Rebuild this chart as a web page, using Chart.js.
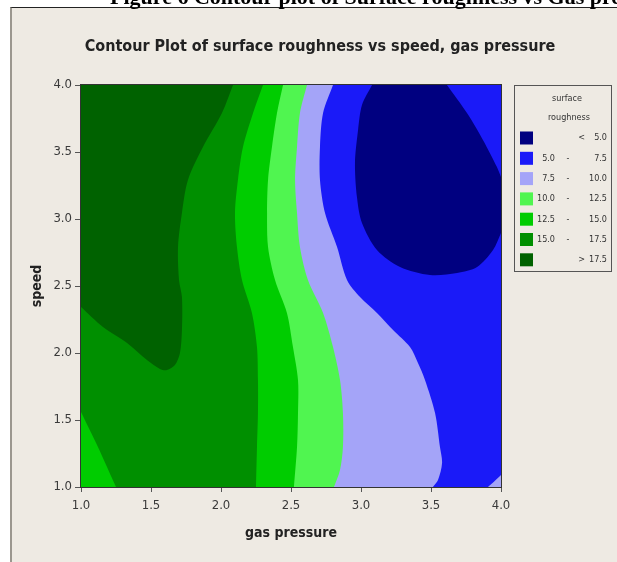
<!DOCTYPE html>
<html>
<head>
<meta charset="utf-8">
<title>Contour Plot of surface roughness vs speed, gas pressure</title>
<script src="https://cdn.jsdelivr.net/npm/chart.js@4.4.0/dist/chart.umd.min.js"></script>
<style>
  html, body { margin: 0; padding: 0; background: #fff; }
  #wrap { position: relative; width: 617px; height: 562px; overflow: hidden; }
  #caption { position: absolute; left: 110px; top: -16px; font: bold 22px "Liberation Serif", serif; color: #000; white-space: nowrap; z-index: 2; }
  #frame { position: absolute; left: 10px; top: 7px; right: 0; bottom: 0; background: #eeeae3; border-left: 2px solid #9b978f; border-top: 1px solid #222; }
  canvas { position: absolute; left: 0; top: 0; }
</style>
</head>
<body>
<div id="wrap">
  <div id="caption">Figure 6 Contour plot of Surface roughness vs Gas pressure</div>
  <div id="frame"></div>
  <canvas id="contourChart" width="617" height="562"></canvas>
</div>
<script>
// contour levels and the colour of each band (lowest band first)
const levels = [5.0, 7.5, 10.0, 12.5, 15.0, 17.5];
const bandColors = ['#000080', '#1a1af8', '#a4a4f8', '#50f550', '#00cc00', '#008f00', '#006200'];

// tick values and labels
const xTicks = [1.0, 1.5, 2.0, 2.5, 3.0, 3.5, 4.0];
const xTickLabels = ['1.0', '1.5', '2.0', '2.5', '3.0', '3.5', '4.0'];
const yTicks = [1.0, 1.5, 2.0, 2.5, 3.0, 3.5, 4.0];
const yTickLabels = ['1.0', '1.5', '2.0', '2.5', '3.0', '3.5', '4.0'];

// contour lines, [gas pressure, speed]
const contour175 = [[2.086, 4.0], [2.007, 3.791], [1.871, 3.537], [1.764, 3.291], [1.721, 3.045], [1.693, 2.791],
  [1.700, 2.545], [1.721, 2.418], [1.721, 2.172], [1.707, 2.0], [1.671, 1.910], [1.614, 1.873], [1.564, 1.881],
  [1.471, 1.948], [1.329, 2.075], [1.157, 2.194], [1.0, 2.343]];
const contour15 = [[2.300, 4.0], [2.229, 3.791], [2.157, 3.537], [2.121, 3.291], [2.100, 3.045], [2.114, 2.791],
  [2.150, 2.545], [2.221, 2.299], [2.257, 2.045], [2.264, 1.799], [2.264, 1.552], [2.257, 1.299], [2.250, 1.0]];
const contour15corner = [[1.0, 1.56], [1.121, 1.299], [1.221, 1.067], [1.25, 1.0]];
const contour125 = [[2.443, 4.0], [2.400, 3.791], [2.364, 3.537], [2.336, 3.291], [2.329, 3.045], [2.336, 2.791],
  [2.386, 2.545], [2.471, 2.299], [2.514, 2.045], [2.550, 1.799], [2.550, 1.552], [2.543, 1.299], [2.521, 1.0]];
const contour10 = [[2.614, 4.0], [2.564, 3.791], [2.543, 3.537], [2.529, 3.291], [2.543, 3.045], [2.564, 2.791],
  [2.621, 2.545], [2.729, 2.299], [2.800, 2.045], [2.850, 1.799], [2.871, 1.552], [2.871, 1.299], [2.850, 1.127], [2.807, 1.0]];
const contour75 = [[2.800, 4.0], [2.729, 3.791], [2.707, 3.537], [2.707, 3.291], [2.743, 3.045], [2.829, 2.791],
  [2.900, 2.545], [2.993, 2.418], [3.114, 2.299], [3.229, 2.172], [3.350, 2.045], [3.407, 1.925], [3.457, 1.799],
  [3.529, 1.552], [3.564, 1.299], [3.579, 1.179], [3.550, 1.052], [3.514, 1.0]];
const contour75corner = [[3.907, 1.0], [3.955, 1.045], [4.0, 1.09]];
const contour5a = [[3.079, 4.0], [3.007, 3.851], [2.979, 3.664], [2.957, 3.418], [2.971, 3.164], [3.007, 2.970],
  [3.114, 2.769], [3.279, 2.642], [3.493, 2.582], [3.686, 2.597], [3.829, 2.642], [3.943, 2.769], [4.0, 2.896]];
const contour5b = [[4.0, 3.313], [3.971, 3.388], [3.871, 3.590], [3.757, 3.791], [3.614, 4.0]];

// points outside the plot used to close the filled areas
const LO = 0.7, HI = 4.3;

// push both ends of a contour a bit past the plot edge so the curve leaves it cleanly
function extend(pts) {
  const out = (p, q) => {
    const dx = p[0] - q[0], dy = p[1] - q[1], d = Math.hypot(dx, dy);
    return [p[0] + dx / d * 0.15, p[1] + dy / d * 0.15];
  };
  const n = pts.length;
  return [out(pts[0], pts[1])].concat(pts, [out(pts[n - 1], pts[n - 2])]);
}

function area(band, order, pts) {
  return {
    label: String(band),
    data: pts.map(p => ({ x: p[0], y: p[1] })),
    backgroundColor: bandColors[band],
    borderWidth: 0,
    pointRadius: 0,
    fill: 'shape',
    tension: 0.3,
    order: order
  };
}

const datasets = [
  area(6, 8, [[LO, LO], [HI, LO], [HI, HI], [LO, HI]]),
  area(5, 7, extend(contour175).concat([[LO, LO], [HI, LO], [HI, HI]])),
  area(4, 6, extend(contour15).concat([[HI, LO], [HI, HI]])),
  area(4, 6, extend(contour15corner).concat([[LO, LO]])),
  area(3, 5, extend(contour125).concat([[HI, LO], [HI, HI]])),
  area(2, 4, extend(contour10).concat([[HI, LO], [HI, HI]])),
  area(1, 3, extend(contour75).concat([[HI, LO], [HI, HI]])),
  area(2, 2, extend(contour75corner).concat([[HI, LO]])),
  area(0, 1, extend(contour5a).concat(extend(contour5b)))
];

const tickFont = { family: '"DejaVu Sans Condensed", "DejaVu Sans", sans-serif', size: 13 };
const titleFamily = '"DejaVu Sans Condensed", "DejaVu Sans", sans-serif';

// frame round the data region
const plotFrame = {
  id: 'plotFrame',
  afterDatasetsDraw(chart) {
    const a = chart.chartArea, ctx = chart.ctx;
    ctx.save();
    ctx.strokeStyle = '#333';
    ctx.lineWidth = 1;
    ctx.strokeRect(Math.round(a.left) - 0.5, Math.round(a.top) - 0.5, a.right - a.left + 1, a.bottom - a.top + 1);
    ctx.restore();
  }
};

// Minitab style legend box on the right
const bandLegend = {
  id: 'bandLegend',
  afterDraw(chart) {
    const ctx = chart.ctx;
    const bx = 514, by = 85, bw = 97, bh = 186;
    ctx.save();
    ctx.strokeStyle = '#555';
    ctx.lineWidth = 1;
    ctx.strokeRect(bx + 0.5, by + 0.5, bw, bh);
    ctx.fillStyle = '#333';
    ctx.font = '9px ' + titleFamily;
    ctx.textAlign = 'center';
    ctx.textBaseline = 'middle';
    ctx.fillText('surface', 567, 99);
    ctx.fillText('roughness', 569, 118);
    const fmt = v => v.toFixed(1);
    for (let i = 0; i < bandColors.length; i++) {
      const cy = 138 + i * 20.3;
      ctx.fillStyle = bandColors[i];
      ctx.fillRect(520, cy - 6.5, 13, 13);
      ctx.fillStyle = '#333';
      ctx.textAlign = 'right';
      if (i === 0) {
        ctx.fillText('<', 585, cy);
        ctx.fillText(fmt(levels[0]), 607, cy);
      } else if (i === bandColors.length - 1) {
        ctx.fillText('>', 585, cy);
        ctx.fillText(fmt(levels[levels.length - 1]), 607, cy);
      } else {
        ctx.fillText(fmt(levels[i - 1]), 555, cy);
        ctx.textAlign = 'center';
        ctx.fillText('-', 568, cy);
        ctx.textAlign = 'right';
        ctx.fillText(fmt(levels[i]), 607, cy);
      }
    }
    ctx.restore();
  }
};

new Chart(document.getElementById('contourChart'), {
  type: 'line',
  data: { datasets: datasets },
  plugins: [plotFrame, bandLegend],
  options: {
    responsive: false,
    animation: false,
    layout: { padding: { left: 23, right: 0, top: 0, bottom: 0 } },
    elements: { line: { capBezierPoints: false } },
    plugins: {
      legend: { display: false },
      tooltip: { enabled: false },
      title: {
        display: true,
        text: 'Contour Plot of surface roughness vs speed, gas pressure',
        color: '#222',
        font: { family: titleFamily, size: 16, weight: 'bold', lineHeight: 1.2 },
        padding: { top: 37.4, bottom: 28.4 }
      }
    },
    scales: {
      x: {
        type: 'linear',
        min: 1, max: 4,
        afterBuildTicks: s => { s.ticks = xTicks.map(v => ({ value: v })); },
        afterFit: s => { s.height = 75; },
        ticks: { callback: (v, i) => xTickLabels[i], font: tickFont, color: '#3a3a3a', padding: 6, maxRotation: 0 },
        grid: { drawOnChartArea: false, tickLength: 5, color: '#555' },
        border: { display: false },
        title: { display: true, text: 'gas pressure', color: '#222',
          font: { family: titleFamily, size: 14, weight: 'bold', lineHeight: 1.2 }, padding: { top: 0, bottom: 20.6 } }
      },
      y: {
        type: 'linear',
        min: 1, max: 4,
        afterBuildTicks: s => { s.ticks = yTicks.map(v => ({ value: v })); },
        afterFit: s => { s.width = 58; },
        ticks: { callback: (v, i) => yTickLabels[i], font: tickFont, color: '#3a3a3a', padding: 3 },
        grid: { drawOnChartArea: false, tickLength: 6, color: '#555' },
        border: { display: false },
        title: { display: true, text: 'speed', color: '#222',
          font: { family: titleFamily, size: 14, weight: 'bold', lineHeight: 1.2 }, padding: { top: 5.6, bottom: 0 } }
      },
      yRight: {
        type: 'linear',
        position: 'right',
        afterFit: s => { s.width = 116; },
        ticks: { display: false },
        grid: { display: false },
        border: { display: false }
      }
    }
  }
});
</script>
</body>
</html>
